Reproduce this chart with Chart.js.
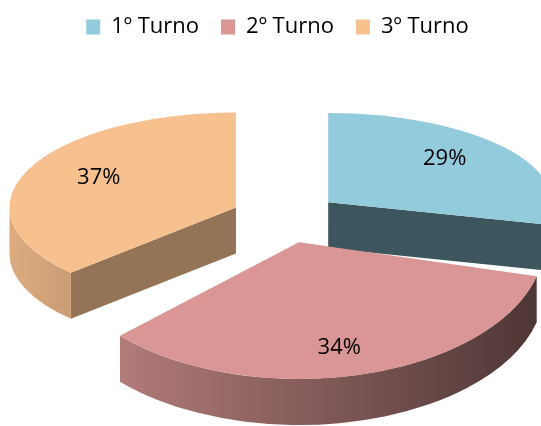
<!DOCTYPE html>
<html>
<head>
<meta charset="utf-8">
<script src="https://cdn.jsdelivr.net/npm/chart.js@4.4.1/dist/chart.umd.min.js"></script>
<style>
  html, body { margin: 0; padding: 0; background: #fff; }
  #wrap { width: 541px; height: 426px; overflow: hidden; }
</style>
</head>
<body>
<div id="wrap"><canvas id="turnoChart" width="541" height="426"></canvas></div>
<script>
const categories = ['1º Turno', '2º Turno', '3º Turno'];
const values = [29, 34, 37];
const topColors = ['#92CBDC', '#D99694', '#F7C08F'];

// settings for the fake 3d look (screen pixels)
const view = {
    cx: 285.5, cy: 217.7,
    radius: 232, depth: 46,
    tilt: 0.46, tiltVar: 0.1, sizeVar: 0.06,
    explode: 54, explodeTilt: 0.47
};

function shade(hex, f) {
    const n = parseInt(hex.slice(1), 16);
    const r = Math.round(((n >> 16) & 255) * f);
    const g = Math.round(((n >> 8) & 255) * f);
    const b = Math.round((n & 255) * f);
    return `rgb(${r},${g},${b})`;
}

function sliceGeom(arc) {
    const mid = (arc.startAngle + arc.endAngle) / 2;
    const far = -Math.sin(mid);
    return {
        mid: mid,
        far: far,
        R: view.radius * (1 - view.sizeVar * far),
        k: view.tilt - view.tiltVar * far,
        ax: view.cx + view.explode * Math.cos(mid),
        ay: view.cy + view.explode * view.explodeTilt * Math.sin(mid)
    };
}

function drawFace(ctx, g, a, fill) {
    const px = g.ax + g.R * Math.cos(a);
    const py = g.ay + g.R * g.k * Math.sin(a);
    ctx.beginPath();
    ctx.moveTo(g.ax, g.ay);
    ctx.lineTo(px, py);
    ctx.lineTo(px, py + view.depth);
    ctx.lineTo(g.ax, g.ay + view.depth);
    ctx.closePath();
    ctx.fillStyle = fill;
    ctx.fill();
}

function drawRim(ctx, g, s, e, color) {
    const grad = ctx.createLinearGradient(g.ax - g.R, 0, g.ax + g.R, 0);
    grad.addColorStop(0, shade(color, 0.89));
    grad.addColorStop(1, shade(color, 0.35));
    for (let n = -1; n <= 1; n++) {
        const a1 = Math.max(s, n * 2 * Math.PI);
        const a2 = Math.min(e, n * 2 * Math.PI + Math.PI);
        if (a2 <= a1) continue;
        ctx.beginPath();
        ctx.ellipse(g.ax, g.ay, g.R, g.R * g.k, 0, a1, a2);
        ctx.ellipse(g.ax, g.ay + view.depth, g.R, g.R * g.k, 0, a2, a1, true);
        ctx.closePath();
        ctx.fillStyle = grad;
        ctx.fill();
    }
}

const pie3d = {
    id: 'pie3d',
    beforeDatasetsDraw(chart) {
        const ctx = chart.ctx;
        const arcs = chart.getDatasetMeta(0).data;
        const total = values.reduce((a, b) => a + b, 0);

        const order = arcs.map((arc, i) => ({ arc, i, g: sliceGeom(arc) }))
            .sort((p, q) => q.g.far - p.g.far);

        order.forEach(({ arc, i, g }) => {
            const col = topColors[i];
            if (Math.cos(arc.startAngle) < -1e-3) drawFace(ctx, g, arc.startAngle, shade(col, 0.6));
            if (Math.cos(arc.endAngle) > 1e-3) drawFace(ctx, g, arc.endAngle, shade(col, 0.42));
            drawRim(ctx, g, arc.startAngle, arc.endAngle, col);

            ctx.save();
            ctx.translate(g.ax, g.ay);
            ctx.scale(g.R / arc.outerRadius, g.R * g.k / arc.outerRadius);
            ctx.translate(-arc.x, -arc.y);
            arc.draw(ctx);
            ctx.restore();
        });

        // percent labels
        ctx.save();
        ctx.font = '22px "Open Sans"';
        ctx.fillStyle = '#000';
        ctx.textAlign = 'center';
        ctx.textBaseline = 'middle';
        order.forEach(({ i, g }) => {
            const x = g.ax + 0.66 * g.R * Math.cos(g.mid);
            const y = g.ay + 0.8 * g.R * g.k * Math.sin(g.mid);
            ctx.fillText(Math.round(values[i] / total * 100) + '%', x, y);
        });
        ctx.restore();
        return false;
    }
};

document.addEventListener('DOMContentLoaded', () => {
    const ctx = document.getElementById('turnoChart').getContext('2d');
    new Chart(ctx, {
        type: 'pie',
        data: {
            labels: categories,
            datasets: [{
                data: values,
                backgroundColor: topColors,
                borderWidth: 0,
                clip: false
            }]
        },
        options: {
            responsive: false,
            animation: false,
            events: [],
            layout: { padding: { top: -6, left: 14 } },
            plugins: {
                legend: {
                    position: 'top',
                    labels: {
                        font: { family: 'Open Sans', size: 22 },
                        color: '#000',
                        boxWidth: 14,
                        boxHeight: 15,
                        padding: 22
                    }
                },
                tooltip: { enabled: false }
            }
        },
        plugins: [pie3d]
    });
});
</script>
</body>
</html>
